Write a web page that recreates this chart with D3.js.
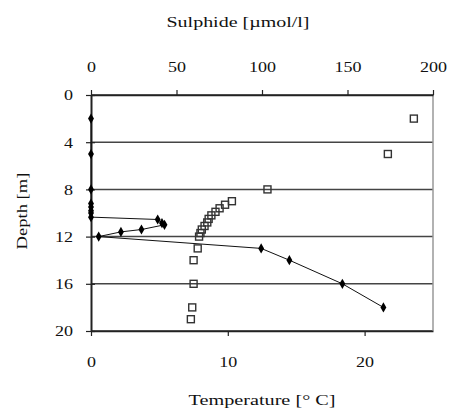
<!DOCTYPE html>
<html><head><meta charset="utf-8">
<script src="https://cdn.jsdelivr.net/npm/d3@7"></script>
<style>body{margin:0;background:#fff} text{font-family:"Liberation Serif","DejaVu Serif",serif}</style>
</head><body>
<svg id="c" width="450" height="409"></svg>
<script>
const sulphideDepth = [2,5,8,9.2,9.5,9.8,10.0,10.35,10.55,10.85,11.0,11.4,11.6,12.0,13.0,14.0,16.0,18.0];
const sulphideValue = [0,0,0,0,0,0,0,0,39,41.5,43,29.5,17.5,4.5,99.5,116,147,171];
const tempDepth = [2,5,8,9.0,9.3,9.6,9.9,10.2,10.5,10.8,11.1,11.4,11.7,12.0,13,14,16,18,19];
const tempValue = [23.6,21.7,12.9,10.3,9.8,9.4,9.1,8.8,8.6,8.5,8.3,8.1,8.0,7.9,7.8,7.5,7.5,7.4,7.3];
const depthTicks = [0,4,8,12,16,20];
const sulphideTicks = [0,50,100,150,200];
const tempTicks = [0,10,20];

const svg = d3.select('#c');
const L=91, R=433, T=95, B=331;
const y = d3.scaleLinear().domain([0,20]).range([T,B]);
const xs = d3.scaleLinear().domain([0,200]).range([L,R]);
const xt = d3.scaleLinear().domain([0,25]).range([L,R]);

svg.append('g').selectAll('line').data(depthTicks).join('line')
  .attr('x1',L).attr('x2',R).attr('y1',d=>y(d)).attr('y2',d=>y(d))
  .attr('stroke',d=>(d===0||d===20)?'#222':'#444').attr('stroke-width',1.5);
svg.append('line').attr('x1',R).attr('x2',R).attr('y1',T).attr('y2',B).attr('stroke','#999').attr('stroke-width',1.5);

const gTop = svg.append('g').attr('transform',`translate(0,${T})`)
  .call(d3.axisTop(xs).tickValues(sulphideTicks).tickSize(5).tickPadding(18).tickSizeOuter(0));
const gBot = svg.append('g').attr('transform',`translate(0,${B})`)
  .call(d3.axisBottom(xt).tickValues(tempTicks).tickSize(5).tickPadding(20).tickSizeOuter(0));
const gLeft = svg.append('g').attr('transform',`translate(${L},0)`)
  .call(d3.axisLeft(y).tickValues(depthTicks).tickSize(5).tickPadding(13).tickSizeOuter(0));
gLeft.selectAll('.tick line').attr('x2',4).attr('x1',-5);
[gTop,gBot,gLeft].forEach(g=>{
  g.select('.domain').attr('stroke','#222').attr('stroke-width',1.5);
  g.selectAll('.tick line').attr('stroke','#222').attr('stroke-width',1.2);
  g.selectAll('.tick text').attr('font-family',null).attr('font-size',15).attr('fill','#111')
    .attr('textLength',function(){return this.textContent.length*9;})
    .attr('lengthAdjust','spacingAndGlyphs');
});
gLeft.select('.domain').attr('stroke-width',2);

const pts = sulphideDepth.map((d,i)=>({d, v:sulphideValue[i]}));
svg.append('path').datum(pts)
  .attr('d', d3.line().x(p=>xs(p.v)).y(p=>y(p.d)))
  .attr('fill','none').attr('stroke','#111').attr('stroke-width',1);
svg.append('g').selectAll('path').data(pts).join('path')
  .attr('transform',p=>`translate(${xs(p.v)},${y(p.d)})`)
  .attr('d', d3.symbol(d3.symbolDiamond, 30)())
  .attr('fill','#000');

const tp = tempDepth.map((d,i)=>({d, v:tempValue[i]}));
svg.append('g').selectAll('rect').data(tp).join('rect')
  .attr('x',p=>xt(p.v)-3.5).attr('y',p=>y(p.d)-3.5).attr('width',7).attr('height',7)
  .attr('fill','none').attr('stroke','#333').attr('stroke-width',1.4);

svg.append('text').attr('x',238).attr('y',27).attr('text-anchor','middle')
  .attr('font-size',15).attr('fill','#111')
  .attr('textLength',143).attr('lengthAdjust','spacingAndGlyphs').text('Sulphide [µmol/l]');
svg.append('text').attr('x',262).attr('y',405).attr('text-anchor','middle')
  .attr('font-size',15).attr('fill','#111')
  .attr('textLength',147).attr('lengthAdjust','spacingAndGlyphs').text('Temperature [° C]');
svg.append('text').attr('transform','translate(27,211) rotate(-90)').attr('text-anchor','middle')
  .attr('font-size',15).attr('fill','#111')
  .attr('textLength',77).attr('lengthAdjust','spacingAndGlyphs').text('Depth [m]');
</script>
</body></html>
